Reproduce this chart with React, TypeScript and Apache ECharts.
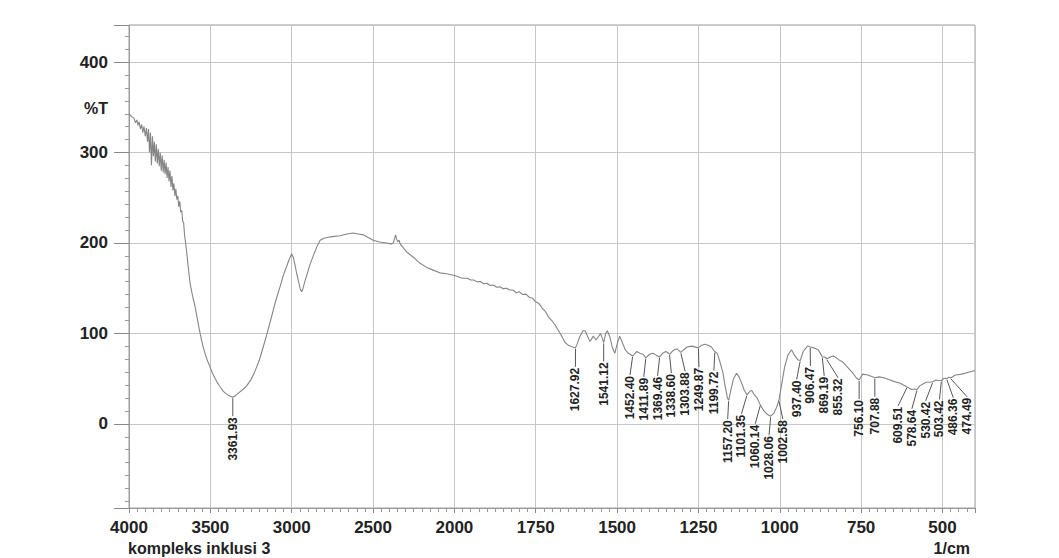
import React, { useEffect, useRef } from "react";
import * as echarts from "echarts";

// ---- data ----
const wavenumbers = [
  4000, 3985, 3970, 3960, 3952, 3945, 3938, 3930, 3922, 3915, 3908, 3900, 3893, 3886, 3880, 3874, 3868, 3862, 3856, 3850,
  3844, 3838, 3832, 3826, 3820, 3814, 3808, 3802, 3796, 3790, 3784, 3778, 3772, 3766, 3760, 3754, 3748, 3742, 3736, 3730,
  3724, 3718, 3712, 3706, 3700, 3694, 3688, 3682, 3676, 3670, 3664, 3658, 3652, 3645, 3635, 3625, 3610, 3594, 3580, 3563,
  3548, 3533, 3518, 3502, 3487, 3471, 3455, 3440, 3420, 3404, 3385, 3369, 3362, 3350, 3328, 3300, 3277, 3250, 3226, 3200,
  3175, 3150, 3123, 3100, 3071, 3050, 3031, 3015, 3000, 2990, 2980, 2969, 2955, 2945, 2938, 2930, 2920, 2908, 2890, 2867,
  2845, 2825, 2805, 2785, 2750, 2703, 2660, 2622, 2590, 2560, 2530, 2500, 2460, 2416, 2390, 2375, 2368, 2361, 2355, 2349,
  2340, 2333, 2320, 2293, 2250, 2211, 2170, 2130, 2090, 2047, 2000, 1975, 1960, 1950, 1941, 1930, 1920, 1910, 1900, 1890,
  1880, 1870, 1860, 1850, 1840, 1830, 1820, 1810, 1800, 1790, 1780, 1770, 1760, 1750, 1740, 1730, 1720, 1710, 1700, 1690,
  1680, 1670, 1660, 1650, 1640, 1628, 1622, 1615, 1605, 1598, 1590, 1583, 1573, 1565, 1560, 1551, 1541, 1535, 1530, 1522,
  1515, 1507, 1500, 1492, 1485, 1475, 1465, 1452, 1440, 1430, 1420, 1412, 1400, 1390, 1380, 1369, 1360, 1350, 1338, 1328,
  1316, 1304, 1295, 1285, 1270, 1250, 1240, 1230, 1220, 1210, 1200, 1192, 1185, 1175, 1168, 1161, 1157, 1150, 1142, 1133,
  1125, 1117, 1110, 1101, 1092, 1086, 1078, 1070, 1060, 1050, 1040, 1028, 1018, 1010, 1002, 995, 985, 975, 964, 955,
  945, 937, 928, 915, 906, 895, 882, 872, 869, 862, 855, 845, 835, 826, 815, 805, 790, 775, 765, 756,
  745, 730, 715, 708, 695, 680, 665, 650, 630, 610, 595, 585, 579, 570, 560, 550, 540, 530, 520, 510,
  503, 495, 486, 480, 474, 460, 440, 420, 400,
];
const transmittance = [
  343, 340, 338, 333, 336, 330, 334, 326, 331, 322, 329, 318, 327, 312, 326, 300, 322, 286, 318, 296,
  312, 290, 309, 288, 304, 285, 300, 280, 297, 278, 292, 276, 289, 272, 284, 268, 280, 262, 274, 258,
  266, 252, 260, 248, 252, 240, 246, 234, 236, 224, 222, 208, 200, 189, 172, 156, 142, 130, 116, 100,
  88, 78, 70, 63, 56, 50.5, 45, 41, 36, 33.5, 31, 30, 29.5, 30.5, 34, 38, 42, 49, 58, 70,
  85, 101, 119, 135, 152, 165, 174, 182, 188, 184, 176, 166, 155, 148, 146, 150, 157, 164, 175, 186,
  196, 203, 205, 206, 207, 208, 210, 211, 210, 209, 206, 203, 201, 200, 199, 200, 205, 209, 204, 201.5,
  203, 199, 196, 190, 184, 177.5, 173, 170, 167, 166, 164, 161, 161, 159, 159, 157, 157.5, 155, 155.5, 153,
  153.5, 151, 151.5, 149.5, 150, 148, 148, 145, 146, 143, 143.5, 140, 139, 135, 133, 128, 124, 118, 114, 109,
  103, 97, 90, 87, 85.5, 84, 89, 96, 103, 103, 96, 91, 97, 93, 95, 100, 90, 100, 103, 96,
  85, 78, 88, 97, 91, 82, 78, 75, 80, 78, 77, 73, 77, 78, 76, 74, 78, 80, 77, 81,
  83, 79, 82, 85, 86, 84, 87, 88, 87, 85, 80, 78, 70, 57, 42, 29, 26, 38, 50, 56,
  52, 45, 38, 32, 36, 37, 32, 29, 21, 15, 11, 8.5, 12, 18, 27, 42, 63, 76, 82, 76,
  71, 70, 80, 86, 85, 84, 82, 76, 74, 74, 72, 74, 75, 73, 70, 68, 62, 56, 51, 48.5,
  55, 54, 52, 51, 52, 51, 49, 47, 45, 41, 38, 38.5, 37.5, 42, 44, 46, 46, 46.5, 48.5, 48,
  48, 50.5, 50, 51.5, 51, 54, 55, 57, 59,
];
const peakLabels = [
  "3361.93", "1627.92", "1541.12", "1452.40", "1411.89", "1369.46", "1338.60", "1303.88", "1249.87",
  "1199.72", "1157.20", "1101.35", "1060.14", "1028.06", "1002.58", "937.40", "906.47", "869.19",
  "855.32", "756.10", "707.88", "609.51", "578.64", "530.42", "503.42", "486.36", "474.49",
];
const xTickWavenumbers = [4000, 3500, 3000, 2500, 2000, 1750, 1500, 1250, 1000, 750, 500];
const yTickValues = [0, 100, 200, 300, 400];

// ---- scale helpers (instrument chart: 500/div above 2000, 250/div below) ----
const wToU = (w: number) => (w >= 2000 ? (4000 - w) / 500 : 4 + (2000 - w) / 250);
const uToW = (u: number) => (u <= 4 ? 4000 - 500 * u : 2000 - 250 * (u - 4));
const U_MAX = wToU(400);
const Y_MIN = -93;
const Y_MAX = 441;

function interpT(w: number): number {
  for (let i = 1; i < wavenumbers.length; i++) {
    const a = wavenumbers[i - 1];
    const b = wavenumbers[i];
    if (w <= a && w >= b) {
      const t = a === b ? 0 : (a - w) / (a - b);
      return transmittance[i - 1] + t * (transmittance[i] - transmittance[i - 1]);
    }
  }
  return transmittance[transmittance.length - 1];
}

function spread(xs: number[], gap: number): number[] {
  const p = xs.slice();
  for (let it = 0; it < 300; it++) {
    let moved = false;
    for (let i = 1; i < p.length; i++) {
      const d = p[i] - p[i - 1];
      if (d < gap - 0.01) {
        const s = (gap - d) / 2;
        p[i - 1] -= s;
        p[i] += s;
        moved = true;
      }
    }
    if (!moved) break;
  }
  return p;
}

const FONT = '"Liberation Sans", Arial, sans-serif';

export default function App() {
  const ref = useRef<HTMLDivElement>(null);
  useEffect(() => {
    document.body.style.margin = "0";
    const chart = echarts.init(ref.current!, null, { renderer: "svg" });
    const lineData = wavenumbers.map((w, i) => [wToU(w), transmittance[i]]);
    const peakData = peakLabels.map((s) => {
      const w = parseFloat(s);
      return [wToU(w), interpT(w)];
    });
    const option: any = {
      animation: false,
      backgroundColor: "#ffffff",
      grid: {
        left: 129,
        right: 84,
        top: 25,
        bottom: 50,
        show: true,
        borderColor: "#9c9c9c",
        borderWidth: 1,
        backgroundColor: "transparent",
      },
      xAxis: {
        type: "value",
        min: 0,
        max: U_MAX,
        interval: 1,
        axisLine: { show: true, onZero: false, lineStyle: { color: "#9c9c9c" } },
        axisTick: { show: true, length: 5, lineStyle: { color: "#8a8a8a" } },
        minorTick: { show: true, splitNumber: 10, length: 4, lineStyle: { color: "#9a9a9a" } },
        splitLine: { show: true, lineStyle: { color: "#c6c6c6", width: 1 } },
        axisLabel: {
          showMaxLabel: false,
          margin: 11,
          fontSize: 17,
          fontWeight: "bold",
          fontFamily: FONT,
          color: "#222",
          formatter: (v: number) => {
            const w = Math.round(uToW(v));
            return Math.abs(v - Math.round(v)) < 1e-6 && xTickWavenumbers.includes(w) ? String(w) : "";
          },
        },
      },
      yAxis: {
        type: "value",
        min: Y_MIN,
        max: Y_MAX,
        splitNumber: 5,
        axisLine: { show: true, lineStyle: { color: "#9c9c9c" } },
        axisTick: { show: true, length: 15, lineStyle: { color: "#8a8a8a" } },
        minorTick: { show: true, splitNumber: 7, length: 4, lineStyle: { color: "#9a9a9a" } },
        splitLine: { show: true, lineStyle: { color: "#c6c6c6", width: 1 } },
        axisLabel: {
          margin: 21,
          fontSize: 17,
          fontWeight: "bold",
          fontFamily: FONT,
          color: "#222",
          formatter: (v: number) => (yTickValues.includes(v) ? String(v) : ""),
        },
      },
      graphic: [
        {
          type: "text",
          x: 108,
          y: 108,
          style: { text: "%T", align: "right", verticalAlign: "middle", font: `bold 16px ${FONT}`, fill: "#222" },
        },
        {
          type: "text",
          x: 128,
          y: 548,
          style: { text: "kompleks inklusi 3", align: "left", verticalAlign: "middle", font: `bold 16px ${FONT}`, fill: "#222" },
        },
        {
          type: "text",
          x: 970,
          y: 548,
          style: { text: "1/cm", align: "right", verticalAlign: "middle", font: `bold 16px ${FONT}`, fill: "#222" },
        },
      ],
      series: [
        {
          type: "line",
          data: lineData,
          showSymbol: false,
          symbol: "none",
          lineStyle: { color: "#858585", width: 1.1 },
          z: 2,
          silent: true,
        },
        {
          type: "custom",
          coordinateSystem: "cartesian2d",
          data: peakData,
          encode: { x: 0, y: 1 },
          silent: true,
          z: 3,
          renderItem: (params: any, api: any) => {
            const pts = peakData.map((d) => api.coord(d));
            const xs = spread(pts.map((p: number[]) => p[0]), 13.8);
            const i = params.dataIndex;
            const px = pts[i][0];
            const py = pts[i][1];
            const lx = xs[i];
            const top = py + 20;
            return {
              type: "group",
              children: [
                {
                  type: "line",
                  shape: { x1: px, y1: py + 1, x2: lx, y2: top - 1 },
                  style: { stroke: "#555", lineWidth: 1 },
                },
                {
                  type: "text",
                  x: lx,
                  y: top,
                  rotation: Math.PI / 2,
                  style: {
                    text: peakLabels[i],
                    align: "right",
                    verticalAlign: "middle",
                    font: `bold 12px ${FONT}`,
                    fill: "#222",
                  },
                },
              ],
            };
          },
        },
      ],
    };
    chart.setOption(option);
    return () => chart.dispose();
  }, []);
  return (
    <div
      ref={ref}
      style={{ position: "fixed", left: 0, top: 0, width: 1059, height: 558, background: "#fff" }}
    />
  );
}
